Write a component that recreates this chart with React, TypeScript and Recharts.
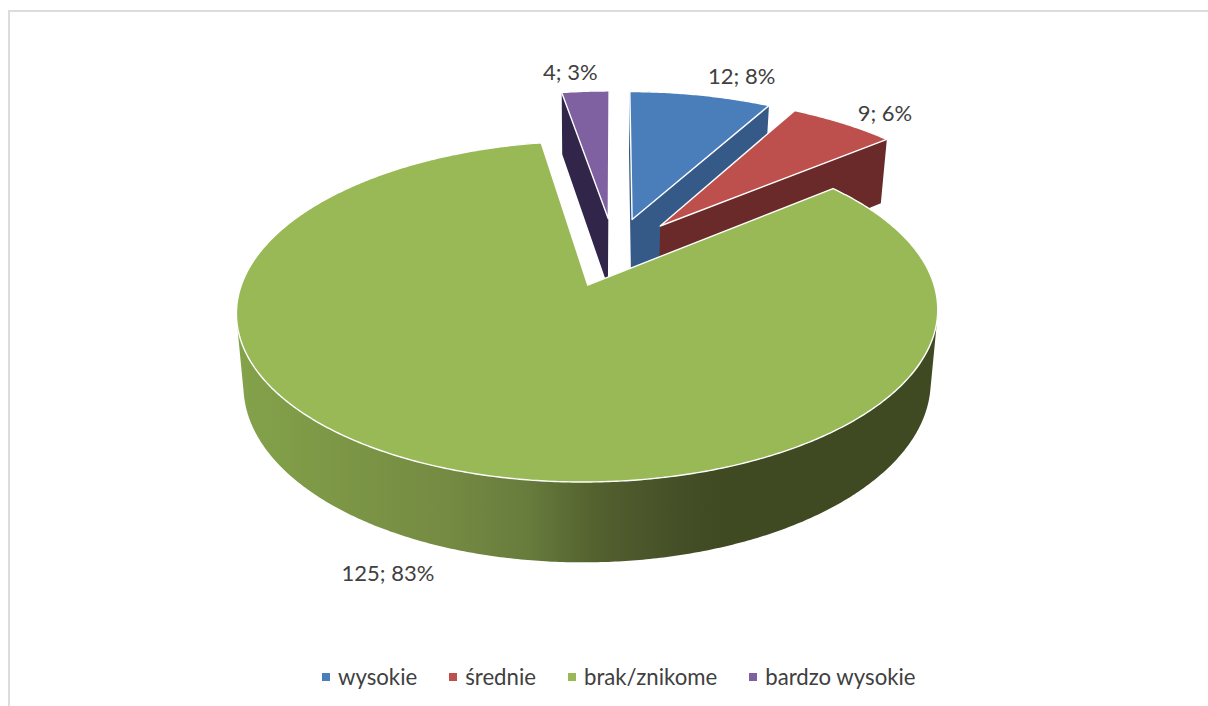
import React from "react";
import { PieChart, Pie, Cell, Legend } from "recharts";

const categories = ["wysokie", "średnie", "brak/znikome", "bardzo wysokie"];
const values = [12, 9, 125, 4];
const topColors = ["#4a7ebb", "#bd4f4c", "#98b956", "#7f60a0"];
const wallColors = ["#355a87", "#6b2a2a", "url(#greenWall)", "#31264a"];

// painted back to front, so the last category comes first
const drawOrder = [3, 0, 1, 2];
const total = values.reduce((sum, v) => sum + v, 0);
const firstAngle = 90 + (values[3] / total) * 360;

const pieData = drawOrder.map((i) => ({ name: categories[i], value: values[i] }));

// fake 3D view of the pie
const EXPLODE = 0.22;
const PERSPECTIVE = 6.64;
const SQUASH = 0.4654;
const FONT = "Lato, sans-serif";
const TEXT_COLOR = "#404040";

const labelNudge: Record<string, [number, number]> = {
  wysokie: [41, -20],
  "średnie": [42, -11],
  "brak/znikome": [-54, 105],
  "bardzo wysokie": [-15, -20],
};

type Pt = [number, number];

const rad = (deg: number) => (deg * Math.PI) / 180;

const project = (cx: number, cy: number, r: number, wx: number, wy: number): Pt => {
  const s = PERSPECTIVE / (PERSPECTIVE + wy);
  return [cx + r * wx * s, cy - r * SQUASH * wy * s];
};

const rimPoint = (p: any, angle: number) => {
  const wx = EXPLODE * Math.cos(rad(p.midAngle)) + Math.cos(rad(angle));
  const wy = EXPLODE * Math.sin(rad(p.midAngle)) + Math.sin(rad(angle));
  return project(p.cx, p.cy, p.outerRadius, wx, wy);
};

const apexPoint = (p: any) =>
  project(
    p.cx,
    p.cy,
    p.outerRadius,
    EXPLODE * Math.cos(rad(p.midAngle)),
    EXPLODE * Math.sin(rad(p.midAngle))
  );

// same point on the underside of the disc
const lower = (p: any, pt: Pt): Pt => {
  const x0 = p.cx - 27;
  return [x0 + (pt[0] - x0) * 0.98, pt[1] + 57.8 + 0.048 * pt[1]];
};

const toPath = (pts: Pt[]) =>
  "M" + pts.map((q) => `${q[0].toFixed(2)},${q[1].toFixed(2)}`).join("L") + "Z";

// one quad per outline segment, all wound the same way so nothing cancels out
const wallPath = (p: any, outline: Pt[]) =>
  outline
    .map((a, i) => {
      const b = outline[(i + 1) % outline.length];
      const quad: Pt[] = [a, b, lower(p, b), lower(p, a)];
      let area = 0;
      quad.forEach((q, j) => {
        const n = quad[(j + 1) % 4];
        area += q[0] * n[1] - n[0] * q[1];
      });
      return toPath(area < 0 ? quad.reverse() : quad);
    })
    .join("");

const SliceShape = (props: any) => {
  const rim: Pt[] = [];
  const steps = Math.ceil(Math.abs(props.endAngle - props.startAngle) * 2);
  for (let i = 0; i <= steps; i++) {
    rim.push(rimPoint(props, props.startAngle + ((props.endAngle - props.startAngle) * i) / steps));
  }
  const outline = [apexPoint(props), ...rim];
  const idx = categories.indexOf(props.name);

  return (
    <g>
      <defs>
        <linearGradient
          id="greenWall"
          gradientUnits="userSpaceOnUse"
          x1={props.cx - 385}
          x2={props.cx + 330}
          y1={0}
          y2={0}
        >
          <stop offset="0" stopColor="#84a34a" />
          <stop offset="0.31" stopColor="#748a42" />
          <stop offset="0.42" stopColor="#677b3c" />
          <stop offset="0.52" stopColor="#525f2e" />
          <stop offset="0.63" stopColor="#454f27" />
          <stop offset="0.69" stopColor="#3f4a22" />
          <stop offset="1" stopColor="#3f4a22" />
        </linearGradient>
      </defs>
      <path d={wallPath(props, outline)} fill={wallColors[idx]} />
      <path d={toPath(outline)} fill={topColors[idx]} stroke="#ffffff" strokeWidth={1.4} strokeLinejoin="round" />
    </g>
  );
};

const renderLabel = (props: any) => {
  const [x, y] = rimPoint(props, props.midAngle);
  const nudge = labelNudge[props.name];
  return (
    <text
      x={x + nudge[0]}
      y={y + nudge[1]}
      textAnchor="middle"
      dominantBaseline="central"
      fontFamily={FONT}
      fontSize={22}
      fill={TEXT_COLOR}
    >
      {`${props.value}; ${Math.round(props.percent * 100)}%`}
    </text>
  );
};

const renderLegend = () => (
  <div style={{ display: "flex", gap: 32, fontFamily: FONT, fontSize: 22.2, color: TEXT_COLOR, lineHeight: "26px" }}>
    {categories.map((name, i) => (
      <div key={name} style={{ display: "flex", alignItems: "center", whiteSpace: "nowrap" }}>
        <span style={{ width: 8, height: 8, marginRight: 8, background: topColors[i], display: "inline-block" }} />
        {name}
      </div>
    ))}
  </div>
);

export default function App() {
  return (
    <div
      style={{
        position: "absolute",
        left: 8,
        top: 10,
        width: 1200,
        height: 696,
        boxSizing: "border-box",
        borderTop: "2px solid #dcdcdc",
        borderLeft: "2px solid #dcdcdc",
        background: "#fff",
      }}
    >
      <PieChart width={1198} height={694} margin={{ top: 0, right: 0, bottom: 0, left: 0 }}>
        <Pie
          data={pieData}
          dataKey="value"
          nameKey="name"
          cx={604.3}
          cy={239.8}
          innerRadius={0}
          outerRadius={335.6}
          startAngle={firstAngle}
          endAngle={firstAngle - 360}
          shape={SliceShape}
          label={renderLabel}
          labelLine={false}
          stroke="none"
          isAnimationActive={false}
        >
          {pieData.map((entry) => (
            <Cell key={entry.name} fill={topColors[categories.indexOf(entry.name)]} />
          ))}
        </Pie>
        <Legend
          content={renderLegend}
          wrapperStyle={{ left: 312, top: 652, width: 800 }}
        />
      </PieChart>
    </div>
  );
}
